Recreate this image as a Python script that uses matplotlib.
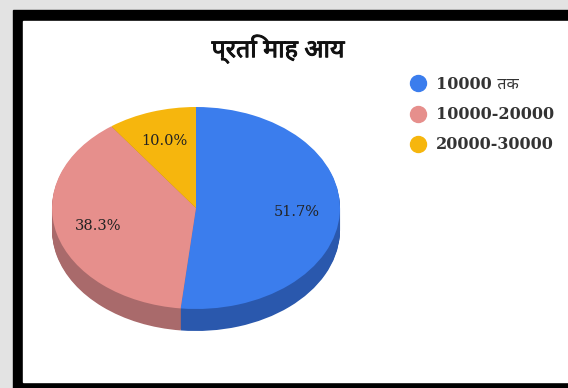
import numpy as np
import matplotlib
matplotlib.use('Agg')
import matplotlib.pyplot as plt
import matplotlib.patheffects as pe
from matplotlib.lines import Line2D
from matplotlib.patches import Rectangle

title = 'प्रति माह आय'
labels = ['10000 तक', '10000-20000', '20000-30000']
values = [51.7, 38.3, 10.0]
colors = ['#3b7ded', '#e68f8c', '#f6b60d']
side_colors = ['#2a58ad', '#a96a6b', '#b48409']

W, H = 568, 388
fig = plt.figure(figsize=(W / 100, H / 100), dpi=100, facecolor='#e3e3e3')

# black frame and white card, in pixels from the top left
fig.add_artist(Rectangle((13 / W, 0), 1, 1 - 10 / H, transform=fig.transFigure, color='black', zorder=-2))
fig.add_artist(Rectangle((23 / W, 1 - 382 / H), 1, (382 - 21) / H, transform=fig.transFigure, color='white', zorder=-1))

# 1 data unit = 144 px across and 101 px down, so the pie looks tilted
x0 = 196 - 1.2 * 144
y_top = 208 - 1.2 * 101
ax = fig.add_axes([x0 / W, 1 - (y_top + 2.7 * 101) / H, 2.4 * 144 / W, 2.7 * 101 / H])

# stacked copies make the side of the disc
depth = 22 / 101
for d in np.linspace(depth, 0.01, 22):
    ax.pie(values, colors=side_colors, startangle=90, counterclock=False, center=(0, -d))

wedges, texts, pcts = ax.pie(values, colors=colors, startangle=90, counterclock=False,
                             autopct='%.1f%%', pctdistance=0.7,
                             textprops={'family': 'DejaVu Serif', 'fontsize': 10.5, 'color': '#222222'})
ax.set_aspect('auto')
ax.set_xlim(-1.2, 1.2)
ax.set_ylim(-1.5, 1.2)

fig.text(278 / W, 1 - 49 / H, title, ha='center', va='center', fontsize=18,
         family=['Noto Sans', 'DejaVu Sans'], color='#111111',
         path_effects=[pe.withStroke(linewidth=0.7, foreground='#111111')])

handles = [Line2D([], [], ls='none', marker='o', ms=11.5, mfc=c, mec=c) for c in colors]
fig.legend(handles, labels, loc='upper left', bbox_to_anchor=(408 / W, 1 - 76 / H), frameon=False,
           labelspacing=0.82, handlelength=1.2, handletextpad=0.55, borderpad=0, borderaxespad=0,
           prop={'family': ['DejaVu Serif', 'Noto Sans'], 'size': 11.5, 'weight': 'bold'},
           labelcolor='#333333')

fig.savefig('out.png', dpi=100, facecolor=fig.get_facecolor())
